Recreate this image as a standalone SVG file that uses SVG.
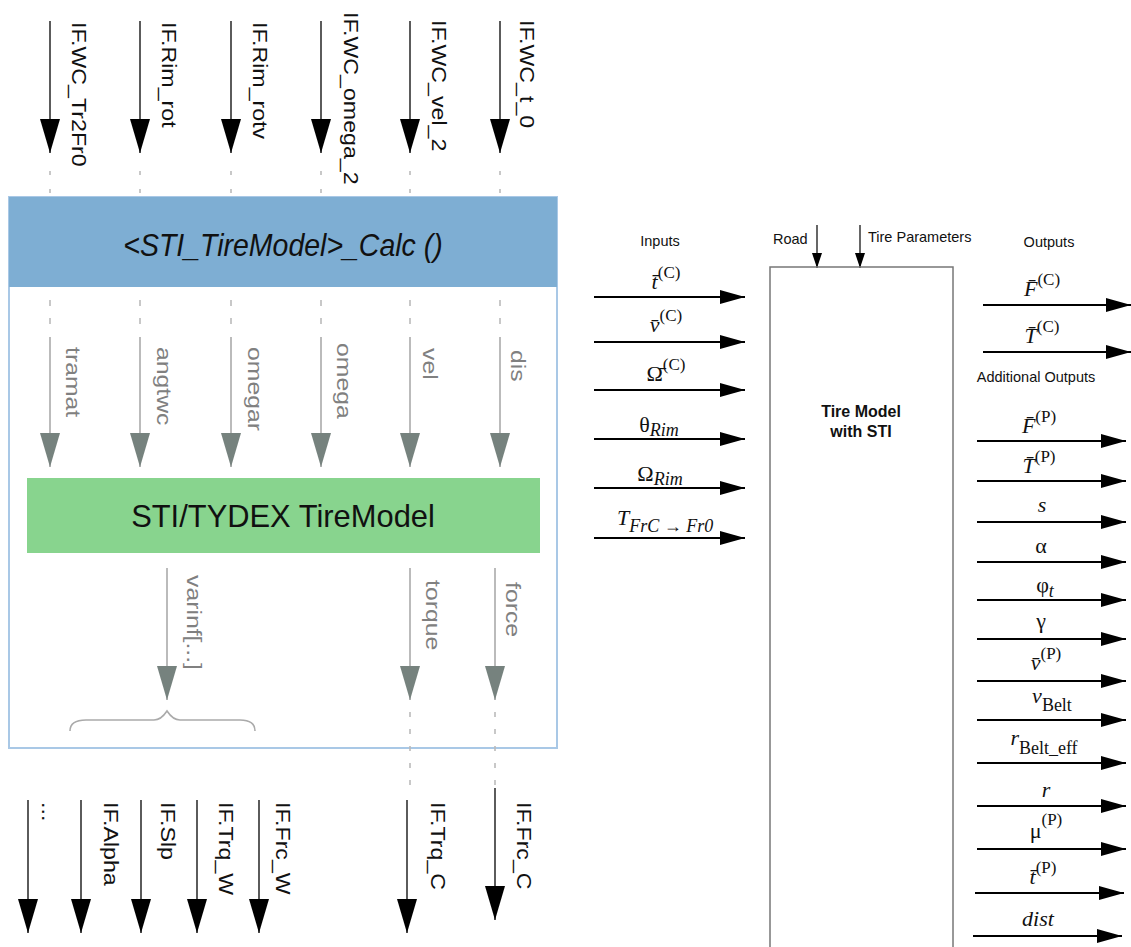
<svg xmlns="http://www.w3.org/2000/svg" width="1131" height="947" viewBox="0 0 1131 947">
<style>
.bl{stroke:#333;stroke-width:1.6;fill:none}
.gl{stroke:#aaa;stroke-width:1.6;fill:none}
.dot{stroke:#bbb;stroke-width:1.6;fill:none}
.rl{stroke:#000;stroke-width:2;fill:none}
.lab{font-family:"Liberation Sans",Arial,sans-serif;font-size:20px;fill:#111}
.glab{font-family:"Liberation Sans",Arial,sans-serif;font-size:21px;fill:#808080}
.sans{font-family:"Liberation Sans",Arial,sans-serif;font-size:14.5px;fill:#111}
.bold{font-family:"Liberation Sans",Arial,sans-serif;font-size:16px;font-weight:bold;fill:#111}
.m{font-family:"Liberation Serif","Times New Roman",serif;font-size:22px;fill:#111}
.i{font-style:italic}
.sup{font-size:17px}
.sub{font-size:18px;font-style:italic}
</style>
<defs>
<marker id="ab" viewBox="0 -10 34 20" refX="34" refY="0" markerWidth="34" markerHeight="20" markerUnits="userSpaceOnUse" orient="auto"><path d="M0,-10 L34,0 L0,10 z" fill="#000"/></marker>
<marker id="ag" viewBox="0 -10 34 20" refX="34" refY="0" markerWidth="34" markerHeight="20" markerUnits="userSpaceOnUse" orient="auto"><path d="M0,-10 L34,0 L0,10 z" fill="#76827e"/></marker>
<marker id="ar" viewBox="0 -7 25 14" refX="25" refY="0" markerWidth="25" markerHeight="14" markerUnits="userSpaceOnUse" orient="auto"><path d="M0,-7 L25,0 L0,7 z" fill="#000"/></marker>
<marker id="as" viewBox="0 -5 15 10" refX="15" refY="0" markerWidth="15" markerHeight="10" markerUnits="userSpaceOnUse" orient="auto"><path d="M0,-5 L15,0 L0,5 z" fill="#000"/></marker>
</defs>

<!-- Left panel: Calc function -->
<g id="calc-box">
<rect x="9" y="197" width="548" height="551" fill="#fff" stroke="#a9c8e6" stroke-width="2"/>
<rect x="9" y="197" width="548" height="90" fill="#7eaed3"/>
<text class="lab" text-anchor="middle" transform="translate(283,256) scale(0.89,1)" style="font-size:32px;font-style:italic">&lt;STI_TireModel&gt;_Calc ()</text>
</g>
<g id="tydex">
<rect x="27" y="478" width="513" height="75" fill="#88d48e"/>
<text class="lab" text-anchor="middle" transform="translate(283,527) scale(0.965,1)" style="font-size:32px">STI/TYDEX TireModel</text>
</g>
<g id="brace">
<path d="M70,731 Q70,720 86,720 L154,720 Q161,720 167,711 Q173,720 180,720 L240,720 Q255,720 255,731" fill="none" stroke="#aaa" stroke-width="1.6"/>
</g>

<g id="connectors">
<line class="bl" x1="50" y1="21" x2="50" y2="153" marker-end="url(#ab)"/>
<line class="bl" x1="140" y1="21" x2="140" y2="153" marker-end="url(#ab)"/>
<line class="bl" x1="231" y1="21" x2="231" y2="153" marker-end="url(#ab)"/>
<line class="bl" x1="321" y1="21" x2="321" y2="153" marker-end="url(#ab)"/>
<line class="bl" x1="410" y1="21" x2="410" y2="153" marker-end="url(#ab)"/>
<line class="bl" x1="500" y1="21" x2="500" y2="153" marker-end="url(#ab)"/>
<g class="dot" stroke-dasharray="4 14">
<line x1="50" y1="171" x2="50" y2="197"/><line x1="140" y1="171" x2="140" y2="197"/><line x1="231" y1="171" x2="231" y2="197"/>
<line x1="321" y1="171" x2="321" y2="197"/><line x1="410" y1="171" x2="410" y2="197"/><line x1="500" y1="171" x2="500" y2="197"/>
</g>
<g class="dot" stroke-dasharray="6 12">
<line x1="50" y1="300" x2="50" y2="326"/><line x1="140" y1="300" x2="140" y2="326"/><line x1="231" y1="300" x2="231" y2="326"/>
<line x1="321" y1="300" x2="321" y2="326"/><line x1="410" y1="300" x2="410" y2="326"/><line x1="500" y1="300" x2="500" y2="326"/>
</g>
<line class="gl" x1="50" y1="337" x2="50" y2="467" marker-end="url(#ag)"/>
<line class="gl" x1="140" y1="337" x2="140" y2="467" marker-end="url(#ag)"/>
<line class="gl" x1="231" y1="337" x2="231" y2="467" marker-end="url(#ag)"/>
<line class="gl" x1="321" y1="337" x2="321" y2="467" marker-end="url(#ag)"/>
<line class="gl" x1="410" y1="337" x2="410" y2="467" marker-end="url(#ag)"/>
<line class="gl" x1="500" y1="337" x2="500" y2="467" marker-end="url(#ag)"/>
<line class="gl" x1="167" y1="568" x2="167" y2="700" marker-end="url(#ag)"/>
<line class="gl" x1="410" y1="568" x2="410" y2="700" marker-end="url(#ag)"/>
<line class="gl" x1="495" y1="568" x2="495" y2="700" marker-end="url(#ag)"/>
<g class="dot" stroke-dasharray="5 12">
<line x1="410" y1="712" x2="410" y2="790"/><line x1="495" y1="712" x2="495" y2="785"/>
</g>
<line class="bl" x1="28" y1="800" x2="28" y2="933" marker-end="url(#ab)"/>
<line class="bl" x1="81" y1="800" x2="81" y2="933" marker-end="url(#ab)"/>
<line class="bl" x1="141" y1="800" x2="141" y2="933" marker-end="url(#ab)"/>
<line class="bl" x1="197" y1="800" x2="197" y2="933" marker-end="url(#ab)"/>
<line class="bl" x1="259" y1="800" x2="259" y2="933" marker-end="url(#ab)"/>
<line class="bl" x1="407" y1="800" x2="407" y2="933" marker-end="url(#ab)"/>
<line class="bl" x1="495" y1="788" x2="495" y2="920" marker-end="url(#ab)"/>

<line class="rl" x1="594" y1="297" x2="745" y2="297" marker-end="url(#ar)"/>
<line class="rl" x1="594" y1="342" x2="745" y2="342" marker-end="url(#ar)"/>
<line class="rl" x1="594" y1="390" x2="745" y2="390" marker-end="url(#ar)"/>
<line class="rl" x1="594" y1="439" x2="745" y2="439" marker-end="url(#ar)"/>
<line class="rl" x1="594" y1="488" x2="745" y2="488" marker-end="url(#ar)"/>
<line class="rl" x1="594" y1="538" x2="745" y2="538" marker-end="url(#ar)"/>
<line x1="817" y1="225" x2="817" y2="268" stroke="#000" stroke-width="1.2" marker-end="url(#as)"/>
<line x1="860" y1="225" x2="860" y2="268" stroke="#000" stroke-width="1.2" marker-end="url(#as)"/>
<line class="rl" x1="983" y1="305" x2="1131" y2="305" marker-end="url(#ar)"/>
<line class="rl" x1="983" y1="352" x2="1131" y2="352" marker-end="url(#ar)"/>
<line class="rl" x1="977" y1="441" x2="1126" y2="441" marker-end="url(#ar)"/>
<line class="rl" x1="977" y1="481" x2="1126" y2="481" marker-end="url(#ar)"/>
<line class="rl" x1="977" y1="522" x2="1126" y2="522" marker-end="url(#ar)"/>
<line class="rl" x1="977" y1="562" x2="1126" y2="562" marker-end="url(#ar)"/>
<line class="rl" x1="977" y1="600" x2="1126" y2="600" marker-end="url(#ar)"/>
<line class="rl" x1="977" y1="639" x2="1126" y2="639" marker-end="url(#ar)"/>
<line class="rl" x1="977" y1="681" x2="1126" y2="681" marker-end="url(#ar)"/>
<line class="rl" x1="977" y1="720" x2="1126" y2="720" marker-end="url(#ar)"/>
<line class="rl" x1="977" y1="763" x2="1126" y2="763" marker-end="url(#ar)"/>
<line class="rl" x1="977" y1="806" x2="1126" y2="806" marker-end="url(#ar)"/>
<line class="rl" x1="977" y1="849" x2="1126" y2="849" marker-end="url(#ar)"/>
<line class="rl" x1="975" y1="893" x2="1124" y2="893" marker-end="url(#ar)"/>
<line class="rl" x1="973" y1="936" x2="1122" y2="936" marker-end="url(#ar)"/>
</g>

<g id="labels-left">
<text class="lab" transform="translate(72,22) rotate(90) scale(1.16,1)">IF.WC_Tr2Fr0</text>
<text class="lab" transform="translate(162,22) rotate(90) scale(1.16,1)">IF.Rim_rot</text>
<text class="lab" transform="translate(253,22) rotate(90) scale(1.16,1)">IF.Rim_rotv</text>
<text class="lab" transform="translate(344,12) rotate(90) scale(1.16,1)">IF.WC_omega_2</text>
<text class="lab" transform="translate(432,20) rotate(90) scale(1.16,1)">IF.WC_vel_2</text>
<text class="lab" transform="translate(520,20) rotate(90) scale(1.16,1)">IF.WC_t_0</text>

<text class="glab" transform="translate(66,347) rotate(90) scale(1.18,1)">tramat</text>
<text class="glab" transform="translate(157,347) rotate(90) scale(1.18,1)">angtwc</text>
<text class="glab" transform="translate(248,347) rotate(90) scale(1.18,1)">omegar</text>
<text class="glab" transform="translate(337,343) rotate(90) scale(1.18,1)">omega</text>
<text class="glab" transform="translate(423,348) rotate(90) scale(1.18,1)">vel</text>
<text class="glab" transform="translate(511,350) rotate(90) scale(1.18,1)">dis</text>
<text class="glab" transform="translate(187,575) rotate(90) scale(1.18,1)">varinf[...]</text>
<text class="glab" transform="translate(426,580) rotate(90) scale(1.18,1)">torque</text>
<text class="glab" transform="translate(506,582) rotate(90) scale(1.18,1)">force</text>

<text class="lab" transform="translate(42,802) rotate(90) scale(1.16,1)">...</text>
<text class="lab" transform="translate(104,802) rotate(90) scale(1.16,1)">IF.Alpha</text>
<text class="lab" transform="translate(161,802) rotate(90) scale(1.16,1)">IF.Slp</text>
<text class="lab" transform="translate(219,802) rotate(90) scale(1.16,1)">IF.Trq_W</text>
<text class="lab" transform="translate(276,802) rotate(90) scale(1.16,1)">IF.Frc_W</text>
<text class="lab" transform="translate(431,802) rotate(90) scale(1.16,1)">IF.Trq_C</text>
<text class="lab" transform="translate(517,802) rotate(90) scale(1.16,1)">IF.Frc_C</text>
</g>

<g id="tire-model">
<rect x="770" y="267" width="183" height="690" fill="none" stroke="#777" stroke-width="1.5"/>
<text class="bold" text-anchor="middle" x="861" y="417">Tire Model</text>
<text class="bold" text-anchor="middle" x="861" y="437">with STI</text>
</g>
<g id="labels-right">
<text class="sans" x="660" y="246" text-anchor="middle">Inputs</text>
<text class="sans" x="773" y="244">Road</text>
<text class="sans" x="868" y="242">Tire Parameters</text>
<text class="sans" x="1049" y="247" text-anchor="middle">Outputs</text>
<text class="sans" x="1036" y="382" text-anchor="middle">Additional Outputs</text>

<text class="m" x="666" y="289" text-anchor="middle"><tspan class="i">t̄</tspan><tspan class="sup" dy="-11">(C)</tspan></text>
<text class="m" x="666" y="332" text-anchor="middle"><tspan class="i">v̄</tspan><tspan class="sup" dy="-11">(C)</tspan></text>
<text class="m" x="666" y="381" text-anchor="middle"><tspan>Ω̄</tspan><tspan class="sup" dy="-11">(C)</tspan></text>
<text class="m" x="659" y="432" text-anchor="middle"><tspan>θ</tspan><tspan class="sub" dy="4">Rim</tspan></text>
<text class="m" x="660" y="481" text-anchor="middle"><tspan>Ω</tspan><tspan class="sub" dy="4">Rim</tspan></text>
<text class="m" x="617" y="525"><tspan class="i">T</tspan><tspan class="sub" dy="7">FrC → Fr0</tspan></text>

<text class="m" x="1042" y="296" text-anchor="middle"><tspan class="i">F̄</tspan><tspan class="sup" dy="-11">(C)</tspan></text>
<text class="m" x="1042" y="343" text-anchor="middle"><tspan class="i">T̄</tspan><tspan class="sup" dy="-11">(C)</tspan></text>

<text class="m" x="1039" y="433" text-anchor="middle"><tspan class="i">F̄</tspan><tspan class="sup" dy="-11">(P)</tspan></text>
<text class="m" x="1039" y="473" text-anchor="middle"><tspan class="i">T̄</tspan><tspan class="sup" dy="-11">(P)</tspan></text>
<text class="m" x="1042" y="512" text-anchor="middle" style="font-style:italic">s</text>
<text class="m" x="1041" y="553" text-anchor="middle">α</text>
<text class="m" x="1045" y="592" text-anchor="middle"><tspan>φ</tspan><tspan class="sub" dy="5">t</tspan></text>
<text class="m" x="1041" y="628" text-anchor="middle">γ</text>
<text class="m" x="1046" y="670" text-anchor="middle"><tspan class="i">v̄</tspan><tspan class="sup" dy="-11">(P)</tspan></text>
<text class="m" x="1052" y="703" text-anchor="middle"><tspan class="i">v</tspan><tspan font-size="18" dy="8">Belt</tspan></text>
<text class="m" x="1044" y="745" text-anchor="middle"><tspan class="i">r</tspan><tspan font-size="18" dy="9">Belt_eff</tspan></text>
<text class="m" x="1046" y="797" text-anchor="middle" style="font-style:italic">r</text>
<text class="m" x="1046" y="838" text-anchor="middle"><tspan>μ</tspan><tspan class="sup" dy="-13">(P)</tspan></text>
<text class="m" x="1043" y="884" text-anchor="middle"><tspan class="i">t̄</tspan><tspan class="sup" dy="-11">(P)</tspan></text>
<text class="m" x="1038" y="926" text-anchor="middle" style="font-style:italic">dist</text>
</g>
</svg>
